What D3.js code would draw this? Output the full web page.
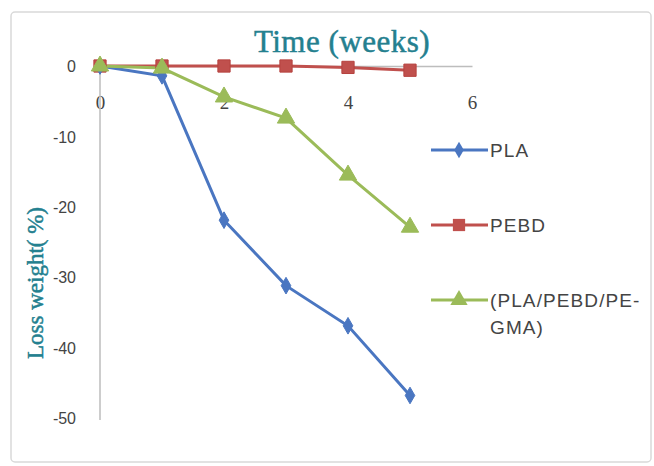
<!DOCTYPE html>
<html><head><meta charset="utf-8">
<script src="https://cdn.jsdelivr.net/npm/d3@7"></script>
<style>body{margin:0;background:#fff}svg{display:block}</style>
</head><body>
<svg id="c" width="654" height="466"></svg>
<script>
const weeks = [0, 1, 2, 3, 4, 5];
const plaLoss = [0, -1.4, -21.9, -31.2, -36.9, -46.8];
const pebdLoss = [0, 0, 0, 0, -0.2, -0.6];
const blendLoss = [0, -0.3, -4.4, -7.4, -15.5, -22.9];
const seriesNames = ["PLA", "PEBD", "(PLA/PEBD/PE-GMA)"];
const xTicks = [0, 2, 4, 6];
const yTicks = [0, -10, -20, -30, -40, -50];

const svg = d3.select("#c");
// outer frame
svg.append("rect").attr("x", 11).attr("y", 12).attr("width", 640).attr("height", 450)
  .attr("rx", 4).attr("fill", "#fff").attr("stroke", "#d9d9d9").attr("stroke-width", 1.5);

const x = d3.scaleLinear().domain([0, 6]).range([100, 472]);
const y = d3.scaleLinear().domain([-50, 0]).range([418, 66]);
const fmt = d => String(d);

// x axis at y=0, labels below
const xAxis = svg.append("g").attr("transform", `translate(0,${y(0)})`)
  .call(d3.axisBottom(x).tickValues(xTicks).tickFormat(fmt).tickSize(0).tickPadding(30));
xAxis.select(".domain").attr("stroke", "#bdbdbd").attr("stroke-width", 1.5);
xAxis.selectAll("text").attr("font-family", "Liberation Serif").attr("font-size", 19).attr("fill", "#444");

const yAxis = svg.append("g").attr("transform", `translate(${x(0)},0)`)
  .call(d3.axisLeft(y).tickValues(yTicks).tickFormat(fmt).tickSize(0).tickPadding(24));
yAxis.select(".domain").remove();
svg.append("line").attr("x1", x(0)).attr("x2", x(0)).attr("y1", y(0)).attr("y2", 420)
  .attr("stroke", "#bdbdbd").attr("stroke-width", 1.5);
yAxis.selectAll("text").attr("font-family", "Liberation Sans").attr("font-size", 16).attr("fill", "#444")
  .attr("dy", "0.35em");

// titles
svg.append("text").attr("x", 342).attr("y", 52).attr("text-anchor", "middle")
  .attr("font-family", "Liberation Serif").attr("font-size", 31).attr("fill", "#24808f")
  .attr("stroke", "#24808f").attr("stroke-width", 0.5).attr("letter-spacing", 0.5)
  .text("Time (weeks)");
svg.append("text").attr("transform", "translate(43,283) rotate(-90)").attr("text-anchor", "middle")
  .attr("font-family", "Liberation Serif").attr("font-size", 23).attr("fill", "#24808f")
  .attr("stroke", "#24808f").attr("stroke-width", 0.5)
  .text("Loss weight( %)");

const colors = ["#4a76c1", "#c0504d", "#9bbb59"];
const data = [plaLoss, pebdLoss, blendLoss];
const line = d3.line().x((d, i) => x(weeks[i])).y(d => y(d));
const symbols = [d3.symbolDiamond, d3.symbolSquare, d3.symbolTriangle];
const sizes = [80, 150, 130];

// draw PEBD first, then PLA, then blend on top
const order = [1, 0, 2];
order.forEach(k => {
  svg.append("path").datum(data[k]).attr("d", line).attr("fill", "none")
    .attr("stroke", colors[k]).attr("stroke-width", 3);
});
order.forEach(k => {
  svg.append("g").selectAll("path").data(data[k]).join("path")
    .attr("transform", (d, i) => `translate(${x(weeks[i])},${y(d)})`)
    .attr("d", d3.symbol().type(symbols[k]).size(sizes[k]))
    .attr("fill", colors[k]).attr("stroke", k === 1 ? "#b5403d" : colors[k]).attr("stroke-width", 1);
});

// legend
const legY = [150, 225, 300];
seriesNames.forEach((name, k) => {
  const g = svg.append("g").attr("transform", `translate(0,${legY[k]})`);
  g.append("line").attr("x1", 431).attr("x2", 488).attr("stroke", colors[k]).attr("stroke-width", 3);
  g.append("path").attr("transform", "translate(459,0)")
    .attr("d", d3.symbol().type(symbols[k]).size(sizes[k])).attr("fill", colors[k]);
  const t = g.append("text").attr("x", 490).attr("font-family", "Liberation Sans")
    .attr("font-size", 19).attr("letter-spacing", 1.1).attr("fill", "#444");
  if (k === 2) {
    t.append("tspan").attr("x", 490).attr("dy", "0.35em").text("(PLA/PEBD/PE-");
    t.append("tspan").attr("x", 490).attr("dy", "1.45em").text("GMA)");
  } else {
    t.attr("dy", "0.35em").text(name);
  }
});
</script>
</body></html>
